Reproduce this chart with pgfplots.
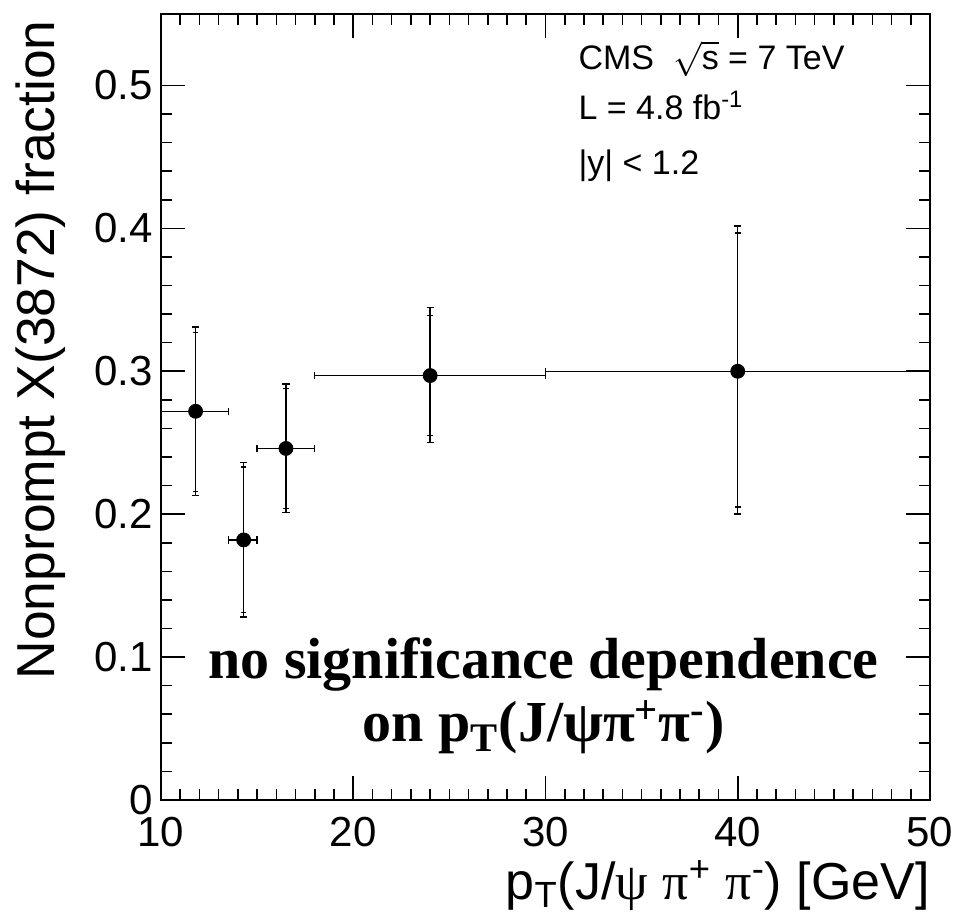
\documentclass[border=0pt]{standalone}
\usepackage{fontspec}
\setmainfont{Liberation Sans}
\newfontfamily\tnr{Liberation Serif}
\usepackage{pgfplots}
\usepackage{pgfplotstable}
\pgfplotsset{compat=1.18}

\pgfplotstableread{
x    y     exm  exp  eym    eyp    iym    iyp
11.8 0.272 1.8  1.7  0.059  0.059  0.056  0.055
14.3 0.182 0.8  0.7  0.054  0.054  0.051  0.051
16.5 0.246 1.5  1.5  0.045  0.045  0.042  0.042
24.0 0.297 6.0  6.0  0.047  0.0475 0.042  0.042
40.0 0.300 10.0 10.0 0.100  0.1016 0.095  0.0967
}\datatable

\begin{document}
\begin{tikzpicture}
\path[use as bounding box] (0,0) rectangle (477.5pt,458.5pt);
\begin{axis}[
  at={(80.5pt,58.5pt)}, anchor=south west,
  scale only axis,
  width=384.5pt, height=393pt,
  xmin=10, xmax=50, ymin=0, ymax=0.55,
  xtick={10,20,30,40,50},
  ytick={0,0.1,0.2,0.3,0.4,0.5},
  minor x tick num=9,
  minor y tick num=4,
  tick align=inside,
  xtick pos=both, ytick pos=both,
  major tick length=12pt,
  minor tick length=5.5pt,
  axis line style={line width=1pt},
  every tick/.style={black, line width=0.8pt},
  /pgf/number format/assume math mode=true,
  /pgf/number format/fixed,
  tick label style={font=\fontsize{21}{21}\selectfont},
  xticklabel style={inner sep=0pt, yshift=-8.5pt},
  yticklabel style={inner sep=0pt, xshift=-4pt},
  xlabel={p\textsubscript{T}(J/{\tnr ψ} {\tnr π}\textsuperscript{+} {\tnr π}\textsuperscript{-}) [GeV]},
  ylabel={Nonprompt X(3872) fraction},
  xlabel style={font=\fontsize{26}{26}\selectfont, inner sep=0pt, at={(rel axis cs:1,0)}, anchor=north east, yshift=-30pt},
  ylabel style={font=\fontsize{26.7}{26.7}\selectfont, inner sep=0pt, at={(rel axis cs:-0.1899,0.9924)}, anchor=north east},
  clip=false,
]
\addplot[draw=none, mark=none, forget plot,
  error bars/.cd, y dir=both, y explicit,
  error bar style={draw=black, line width=0.7pt},
  error mark=-,
  error mark options={rotate=90, draw=black, line width=0.7pt, mark size=1.4pt}]
  table[x=x, y=y, y error plus=iyp, y error minus=iym]{\datatable};
\addplot[only marks, mark=*, mark size=3.5pt, black,
  error bars/.cd, x dir=both, y dir=both, x explicit, y explicit,
  error bar style={draw=black, line width=0.7pt},
  error mark=-,
  error mark options={rotate=90, draw=black, line width=0.7pt, mark size=1.8pt}]
  table[x=x, y=y, x error plus=exp, x error minus=exm, y error plus=eyp, y error minus=eym]{\datatable};

\node[anchor=base west, font=\fontsize{17}{17}\selectfont, inner sep=0pt] at (axis cs:31.7,0.511) {CMS\ \ \(\sqrt{\mbox{s}}\) = 7 TeV};
\node[anchor=base west, font=\fontsize{17}{17}\selectfont, inner sep=0pt] at (axis cs:31.7,0.476) {L = 4.8 fb\textsuperscript{-1}};
\node[anchor=base west, font=\fontsize{17}{17}\selectfont, inner sep=0pt] at (axis cs:31.7,0.438) {|y| < 1.2};

\node[anchor=base, font=\tnr\bfseries\fontsize{29}{29}\selectfont, inner sep=0pt] at (axis cs:29.9,0.0853) {no significance dependence};
\node[anchor=base, font=\tnr\bfseries\fontsize{29}{29}\selectfont, inner sep=0pt] at (axis cs:29.9,0.0406) {on p\textsubscript{T}(J/ψπ\textsuperscript{+}π\textsuperscript{-})};
\end{axis}
\end{tikzpicture}
\end{document}
